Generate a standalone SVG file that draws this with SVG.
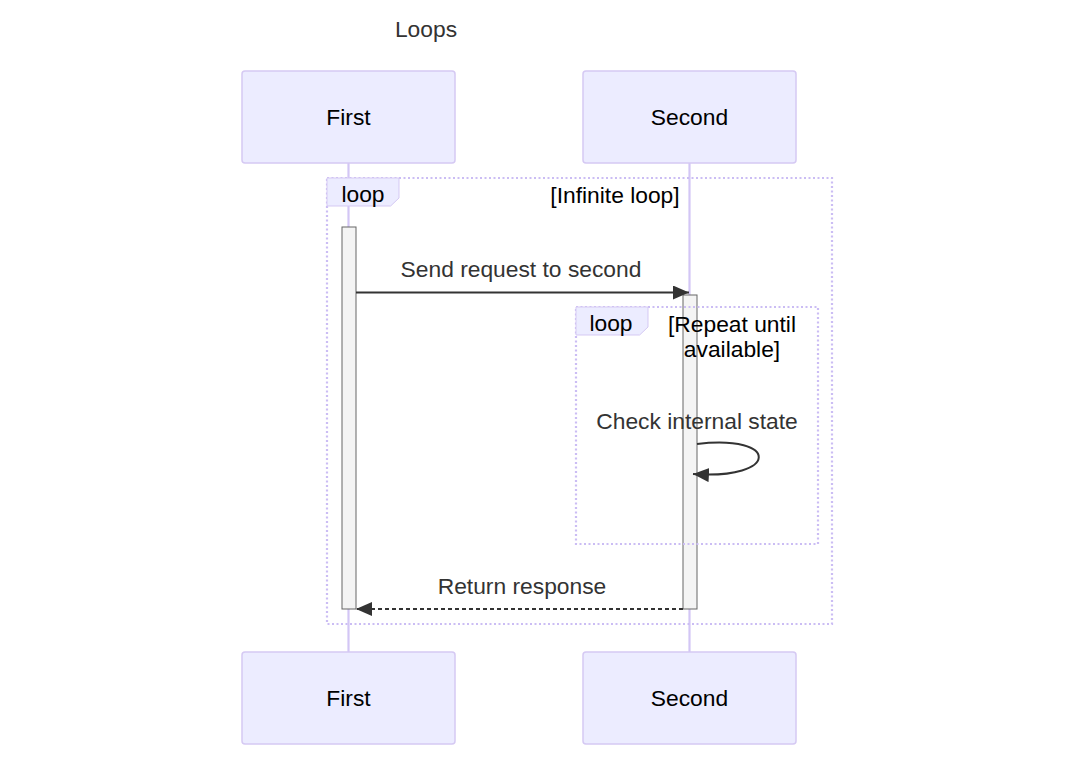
<svg xmlns="http://www.w3.org/2000/svg" width="1074" height="760" viewBox="0 0 1074 760">
<style>
.actor{fill:#ECECFF;stroke:#d5c9f3;stroke-width:1.5}
.atext{font-family:"Liberation Sans",Arial,sans-serif;font-size:22.8px;fill:#000;text-anchor:middle;dominant-baseline:central}
.life{stroke:#d3c6f5;stroke-width:2.2}
.loopbox{fill:none;stroke:#cbbdf4;stroke-width:2.2;stroke-dasharray:2,2.5}
.looplabel{fill:#ECECFF;stroke:#d5c9f3;stroke-width:1}
.ltext{font-family:"Liberation Sans",Arial,sans-serif;font-size:22.8px;fill:#000;text-anchor:middle;dominant-baseline:central}
.act{fill:#f4f4f4;stroke:#666;stroke-width:1}
.msg{stroke:#333;stroke-width:2;fill:none}
.mtext{font-family:"Liberation Sans",Arial,sans-serif;font-size:22.8px;fill:#333;text-anchor:middle;dominant-baseline:central}
</style>
<defs>
<marker id="arrow" markerUnits="userSpaceOnUse" markerWidth="18" markerHeight="16" refX="16" refY="7" orient="auto">
<path d="M0,0 L16,7 L0,14 z" fill="#333"/>
</marker>
</defs>
<rect width="1074" height="760" fill="#fff"/>
<text x="426" y="29" class="mtext">Loops</text>
<g id="lifelines">
<line class="life" x1="348.5" y1="163" x2="348.5" y2="652"/>
<line class="life" x1="689.5" y1="163" x2="689.5" y2="652"/>
</g>
<g id="actor-first-top"><rect class="actor" x="242" y="71" width="213" height="92" rx="3"/><text class="atext" x="348.5" y="117">First</text></g>
<g id="actor-second-top"><rect class="actor" x="583" y="71" width="213" height="92" rx="3"/><text class="atext" x="689.5" y="117">Second</text></g>
<g id="actor-first-bottom"><rect class="actor" x="242" y="652" width="213" height="92" rx="3"/><text class="atext" x="348.5" y="698">First</text></g>
<g id="actor-second-bottom"><rect class="actor" x="583" y="652" width="213" height="92" rx="3"/><text class="atext" x="689.5" y="698">Second</text></g>
<g id="loop-outer">
<rect class="loopbox" x="327" y="178" width="505" height="446"/>
<polygon class="looplabel" points="327,178 399,178 399,198 390.6,206 327,206"/>
<text class="ltext" x="363" y="194">loop</text>
<text class="ltext" x="615" y="195">[Infinite loop]</text>
</g>
<g id="activation-first"><rect class="act" x="342" y="227" width="14" height="382"/></g>
<g id="activation-second"><rect class="act" x="683" y="295" width="14" height="314"/></g>
<g id="loop-inner">
<rect class="loopbox" x="576" y="307" width="242" height="237"/>
<polygon class="looplabel" points="576,307 648,307 648,327 639.6,335 576,335"/>
<text class="ltext" x="611" y="323">loop</text>
<text class="ltext" x="732" y="324">[Repeat until</text>
<text class="ltext" x="732" y="349">available]</text>
</g>
<g id="connectors">
<line class="msg" x1="356" y1="292.5" x2="689" y2="292.5" marker-end="url(#arrow)"/>
<text class="mtext" x="521" y="269">Send request to second</text>
<path class="msg" d="M697,444 C780,434 780,480 693,474" marker-end="url(#arrow)"/>
<text class="mtext" x="697" y="421">Check internal state</text>
<line class="msg" x1="683" y1="609" x2="356" y2="609" stroke-dasharray="4,3" marker-end="url(#arrow)"/>
<text class="mtext" x="522" y="586">Return response</text>
</g>
</svg>
